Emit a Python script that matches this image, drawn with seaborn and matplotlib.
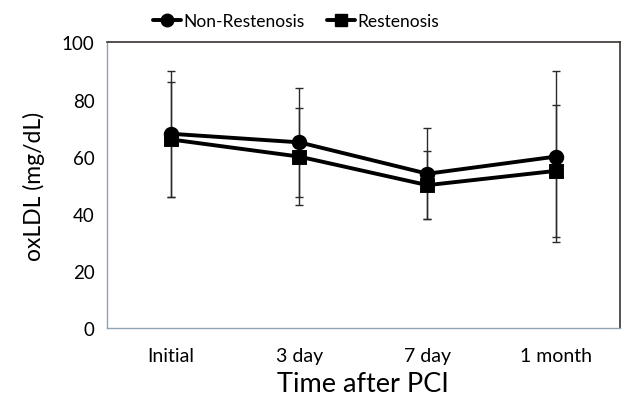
import matplotlib
matplotlib.use("Agg")
import matplotlib.pyplot as plt
import seaborn as sns
import pandas as pd
import numpy as np
from matplotlib.lines import Line2D

sns.set_theme(style="white")
plt.rcParams['font.family'] = ['Lato', 'DejaVu Sans']
plt.rcParams['text.color'] = 'black'
plt.rcParams['axes.labelcolor'] = 'black'
plt.rcParams['xtick.labelcolor'] = 'black'
plt.rcParams['ytick.labelcolor'] = 'black'

categories = ["Initial", "3 day", "7 day", "1 month"]
non_rest_mean = [68, 65, 54, 60]
non_rest_err = [22, 19, 16, 30]
rest_mean = [66, 60, 50, 55]
rest_err = [20, 17, 12, 23]
yticks = [0, 20, 40, 60, 80, 100]

df = pd.DataFrame({
    "time": categories * 2,
    "value": non_rest_mean + rest_mean,
    "group": ["Non-Restenosis"] * 4 + ["Restenosis"] * 4,
})

fig = plt.figure(figsize=(6.26, 4.06), dpi=100)
ax = fig.add_axes([0.171, 0.190, 0.819, 0.703])

xpos = np.arange(len(categories))
ax.errorbar(xpos, non_rest_mean, yerr=non_rest_err, fmt="none", ecolor="#2a2a2a",
            elinewidth=1.0, capsize=3, capthick=1.0, zorder=1)
ax.errorbar(xpos, rest_mean, yerr=rest_err, fmt="none", ecolor="#2a2a2a",
            elinewidth=1.0, capsize=3, capthick=1.0, zorder=1)

sns.pointplot(data=df, x="time", y="value", hue="group", order=categories,
              hue_order=["Non-Restenosis", "Restenosis"],
              palette=["black", "black"], markers=["o", "s"], linestyles=["-", "-"],
              errorbar=None, ax=ax, legend=False, linewidth=2.8, markersize=9, zorder=3)

ax.set_xlim(-0.5, 3.5)
ax.set_ylim(0, 100)
ax.set_yticks(yticks)
ax.set_yticklabels([str(v) for v in yticks], fontsize=13.5)
ax.set_xticks(xpos)
ax.set_xticklabels(categories, fontsize=14)
ax.set_xticks([-0.5, 0.5, 1.5, 2.5], minor=True)
ax.tick_params(axis="x", which="major", length=0, pad=14)
ax.tick_params(axis="x", which="minor", length=5, color="#8fa3b3", width=1, direction="out")
ax.tick_params(axis="y", which="major", length=5, color="#8fa3b3", width=1, direction="out", pad=4)

ax.set_xlabel("Time after PCI", fontsize=19.5, labelpad=5)
ax.set_ylabel("oxLDL (mg/dL)", fontsize=16.5, labelpad=12)

for side in ["left", "bottom"]:
    ax.spines[side].set_color("#8fa3b3")
    ax.spines[side].set_linewidth(1.0)
for side in ["top", "right"]:
    ax.spines[side].set_color("#3a3230")
    ax.spines[side].set_linewidth(1.2)

handles = [
    Line2D([0], [0], color="black", lw=2.8, marker="o", markersize=9),
    Line2D([0], [0], color="black", lw=2.8, marker="s", markersize=8),
]
fig.legend(handles, ["Non-Restenosis", "Restenosis"], loc="center",
           bbox_to_anchor=(296 / 626, 1 - 22 / 406), ncol=2, frameon=False,
           fontsize=12.5, handlelength=1.6, handletextpad=0.15, columnspacing=1.3)

fig.savefig("out.png", dpi=100)
